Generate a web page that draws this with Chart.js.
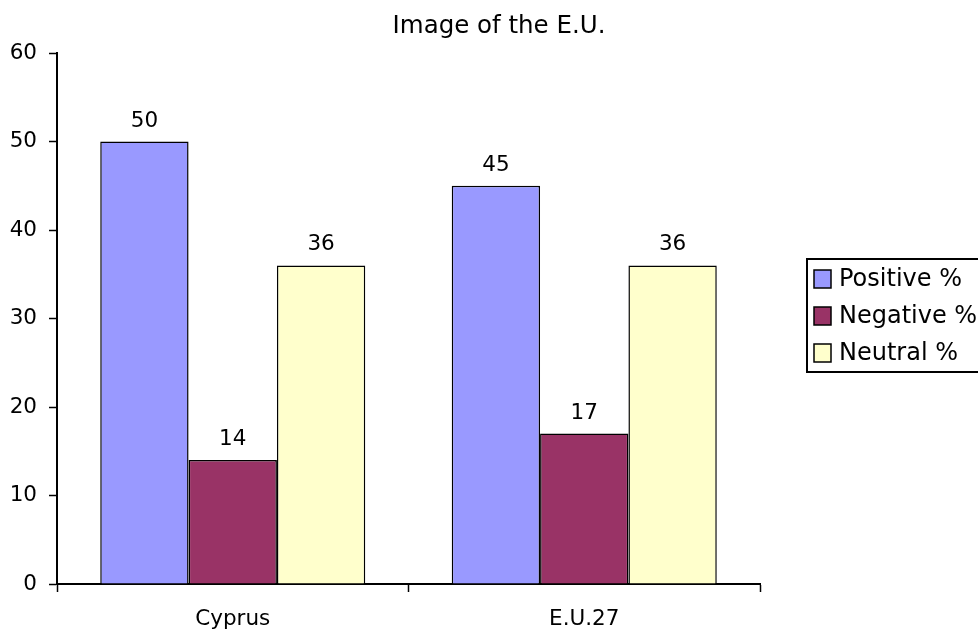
<!DOCTYPE html>
<html>
<head>
<meta charset="utf-8">
<script src="https://cdn.jsdelivr.net/npm/chart.js@4.4.1/dist/chart.umd.min.js"></script>
<style>
  html, body { margin: 0; padding: 0; background: #fff; }
  #wrap { width: 978px; height: 629px; position: relative; }
</style>
</head>
<body>
<div id="wrap"><canvas id="chart"></canvas></div>
<script>
const chartTitle = 'Image of the E.U.';
const categories = ['Cyprus', 'E.U.27'];
const seriesNames = ['Positive %', 'Negative %', 'Neutral %'];
const positive = [50, 45];
const negative = [14, 17];
const neutral = [36, 36];
const yMin = 0;
const yMax = 60;
const yStep = 10;

const colors = ['#9999FF', '#993366', '#FFFFCC'];
const FONT = '"DejaVu Sans", Verdana, sans-serif';

// value labels above the bars
const valueLabels = {
  id: 'valueLabels',
  afterDatasetsDraw(chart) {
    const ctx = chart.ctx;
    ctx.save();
    ctx.font = '21.5px ' + FONT;
    ctx.fillStyle = '#000';
    ctx.textAlign = 'center';
    ctx.textBaseline = 'alphabetic';
    chart.data.datasets.forEach((ds, i) => {
      chart.getDatasetMeta(i).data.forEach((bar, j) => {
        ctx.fillText(ds.data[j], bar.x, bar.y - 15);
      });
    });
    ctx.restore();
  }
};

// title and boxed legend, drawn like the spreadsheet original
const titleAndLegend = {
  id: 'titleAndLegend',
  afterDraw(chart) {
    const ctx = chart.ctx;
    ctx.save();
    ctx.fillStyle = '#000';
    ctx.font = '24.5px ' + FONT;
    ctx.textAlign = 'center';
    ctx.textBaseline = 'alphabetic';
    ctx.fillText(chartTitle, 499, 33);

    ctx.strokeStyle = '#000';
    ctx.lineWidth = 2;
    ctx.strokeRect(807, 259, 200, 113);

    ctx.font = '24px ' + FONT;
    ctx.textAlign = 'left';
    ctx.textBaseline = 'middle';
    chart.data.datasets.forEach((ds, i) => {
      const cy = 279 + i * 37;
      ctx.fillStyle = ds.backgroundColor;
      ctx.fillRect(814, cy - 9, 17, 18);
      ctx.lineWidth = 1.5;
      ctx.strokeRect(814, cy - 9, 17, 18);
      ctx.fillStyle = '#000';
      ctx.fillText(ds.label, 839, cy + 1);
    });
    ctx.restore();
  }
};

new Chart(document.getElementById('chart'), {
  type: 'bar',
  data: {
    labels: categories,
    datasets: [
      { label: seriesNames[0], data: positive, backgroundColor: colors[0] },
      { label: seriesNames[1], data: negative, backgroundColor: colors[1] },
      { label: seriesNames[2], data: neutral, backgroundColor: colors[2] }
    ].map(d => Object.assign(d, {
      borderColor: '#000',
      borderWidth: 1.5,
      categoryPercentage: 0.754,
      barPercentage: 1
    }))
  },
  options: {
    responsive: true,
    maintainAspectRatio: false,
    animation: false,
    layout: { padding: { top: 53, left: 0, right: 218, bottom: 0 } },
    plugins: {
      legend: { display: false },
      title: { display: false },
      tooltip: { enabled: false }
    },
    scales: {
      x: {
        grid: {
          display: true,
          offset: true,
          drawOnChartArea: false,
          drawTicks: true,
          tickLength: 8,
          tickColor: '#000',
          tickWidth: 1.5
        },
        border: { display: true, color: '#000', width: 2 },
        ticks: {
          color: '#000',
          font: { family: FONT, size: 21.5 },
          padding: 15,
          maxRotation: 0
        },
        afterFit: s => { s.height = 45; }
      },
      y: {
        min: yMin,
        max: yMax,
        grid: {
          display: true,
          drawOnChartArea: false,
          drawTicks: true,
          tickLength: 8,
          tickColor: '#000',
          tickWidth: 1.5
        },
        border: { display: true, color: '#000', width: 2 },
        ticks: {
          stepSize: yStep,
          color: '#000',
          font: { family: FONT, size: 21.5 },
          padding: 12
        },
        afterFit: s => { s.width = 57; }
      }
    }
  },
  plugins: [valueLabels, titleAndLegend]
});
</script>
</body>
</html>
